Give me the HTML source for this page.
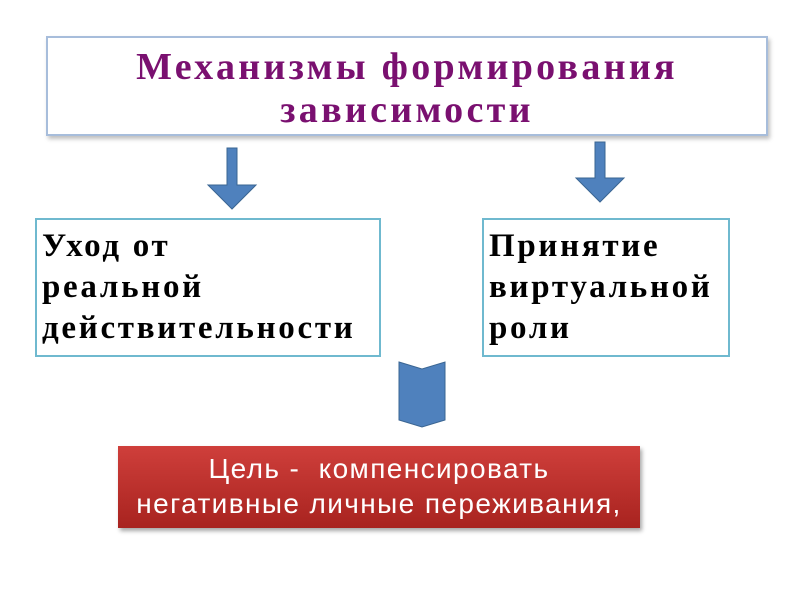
<!DOCTYPE html>
<html><head><meta charset="utf-8"><style>
body{margin:0;width:800px;height:600px;background:#fff;position:relative;overflow:hidden;font-family:"Liberation Serif",serif}
.box{position:absolute;box-sizing:border-box;background:#fff}
#t{left:46px;top:36px;width:722px;height:100px;border:2px solid #a7bddb;box-shadow:2px 3px 4px rgba(0,0,0,.25);color:#7a1070;font-weight:bold;font-size:38px;text-align:center;line-height:43px;padding-top:8px;letter-spacing:3.3px;white-space:nowrap}
.b{border:2px solid #6fb9cf;font-weight:bold;font-size:33px;line-height:41px;padding:6px 0 0 5px;letter-spacing:2.7px;white-space:nowrap}
#r{position:absolute;left:118px;top:446px;width:522px;height:82px;background:linear-gradient(#cf3f3b,#a8231f);box-shadow:2px 3px 4px rgba(0,0,0,.35);color:#fff;font-family:"Liberation Sans",sans-serif;font-size:28px;text-align:center;line-height:35px;padding-top:5px;box-sizing:border-box;letter-spacing:1.4px;white-space:nowrap}
</style></head><body>
<div class="box" id="t">Механизмы формирования<br>зависимости</div>
<svg width="800" height="600" style="position:absolute;left:0;top:0">
<polygon points="227,148 237,148 237,185 256,185 232,209 208,185 227,185" fill="#4f81bd" stroke="#3a6592" stroke-width="1"/>
<polygon points="595,142 605,142 605,178 624,178 600,202 576,178 595,178" fill="#4f81bd" stroke="#3a6592" stroke-width="1"/>
<polygon points="399,362 422,369 445,362 445,420 422,427 399,420" fill="#4f81bd" stroke="#3a6592" stroke-width="1"/>
</svg>
<div class="box b" style="left:35px;top:218px;width:346px;height:139px">Уход от<br>реальной<br>действительности</div>
<div class="box b" style="left:482px;top:218px;width:248px;height:139px">Принятие<br>виртуальной<br>роли</div>
<div id="r">Цель -&nbsp; компенсировать<br>негативные личные переживания,</div>
</body></html>
